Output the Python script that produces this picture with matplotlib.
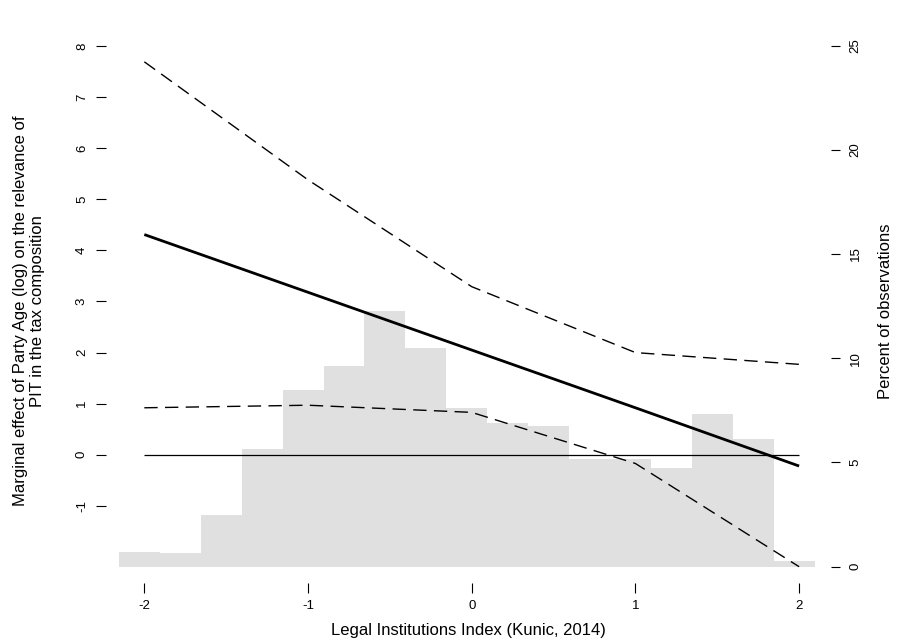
import numpy as np
import matplotlib
matplotlib.use('Agg')
import matplotlib.pyplot as plt

plt.rcParams['font.family'] = ['Liberation Sans', 'DejaVu Sans']

# === DATA ===
# moderator values where the marginal effect was evaluated
x_points = [-2, -1, 0, 1, 2]
effect = [4.31, 3.18, 2.05, 0.92, -0.22]
ci_upper = [7.69, 5.38, 3.29, 2.00, 1.77]
ci_lower = [0.92, 0.97, 0.83, -0.17, -2.19]

# histogram of the moderator (percent of observations)
bin_edges = [-2.155, -1.905, -1.655, -1.405, -1.155, -0.905, -0.655, -0.405, -0.155,
             0.095, 0.345, 0.595, 0.845, 1.095, 1.345, 1.595, 1.845, 2.095]
pct_obs = [0.69, 0.64, 2.48, 5.65, 8.46, 9.63, 12.28, 10.48, 7.60,
           6.91, 6.75, 5.15, 5.15, 4.74, 7.31, 6.13, 0.27]

x_ticks = [-2, -1, 0, 1, 2]
y_ticks = [-1, 0, 1, 2, 3, 4, 5, 6, 7, 8]
pct_ticks = [0, 5, 10, 15, 20, 25]

# === FIGURE ===
W, H = 912, 642
fig = plt.figure(figsize=(W / 100, H / 100), dpi=100)
left, right, top, bottom = 106, 831, 40, 582.7
ax = fig.add_axes([left / W, 1 - bottom / H, (right - left) / W, (bottom - top) / H])
ax2 = ax.twinx()

# histogram behind the effect lines
ax2.set_zorder(1)
ax.set_zorder(2)
ax.patch.set_visible(False)
widths = np.diff(bin_edges)
ax2.bar(bin_edges[:-1], pct_obs, width=widths, align='edge',
        color='#e0e0e0', edgecolor='none', linewidth=0)
ax2.set_ylim(-0.768, 25.27)

dash = (0, (9.6, 5.3))
ax.hlines(0, x_points[0], x_points[-1], color='black', linewidth=0.9)
ax.plot(x_points, effect, color='black', linewidth=2.0, solid_capstyle='butt')
ax.plot(x_points, ci_upper, color='black', linewidth=1.0, linestyle=dash)
ax.plot(x_points, ci_lower, color='black', linewidth=1.0, linestyle=dash)

# keep the data->pixel mapping of the reference after moving the box 1 px
ax.set_xlim(-2.2341, 2.1948)
ax.set_ylim(-2.503, 8.117)

for a in (ax, ax2):
    for s in a.spines.values():
        s.set_visible(False)

ax.set_xticks(x_ticks)
ax.set_xticklabels([str(v) for v in x_ticks])
ax.set_yticks(y_ticks)
ax.set_yticklabels([str(v) for v in y_ticks])
ax2.set_yticks(pct_ticks)
ax2.set_yticklabels([str(v) for v in pct_ticks])

ax.tick_params(axis='x', direction='out', length=7.5, width=0.8, pad=5, labelsize=9.5)
ax.tick_params(axis='y', direction='out', length=7, width=0.8, pad=6, labelsize=9.5,
               labelrotation=90)
ax2.tick_params(axis='y', direction='out', length=6.5, width=0.8, pad=7, labelsize=9.5,
                labelrotation=90)
for lab in ax.get_yticklabels() + ax2.get_yticklabels():
    lab.set_verticalalignment('center')

fig.text(468 / W, 1 - 631 / H, 'Legal Institutions Index (Kunic, 2014)',
         ha='center', va='center', fontsize=12)
fig.text(29 / W, 1 - 311 / H,
         'Marginal effect of Party Age (log) on the relevance of\nPIT in the tax composition',
         ha='center', va='center', rotation=90, fontsize=12, multialignment='center',
         linespacing=1.12)
fig.text(886 / W, 1 - 311 / H, 'Percent of observations',
         ha='center', va='center', rotation=90, fontsize=12)

fig.savefig('out.png', dpi=100)
